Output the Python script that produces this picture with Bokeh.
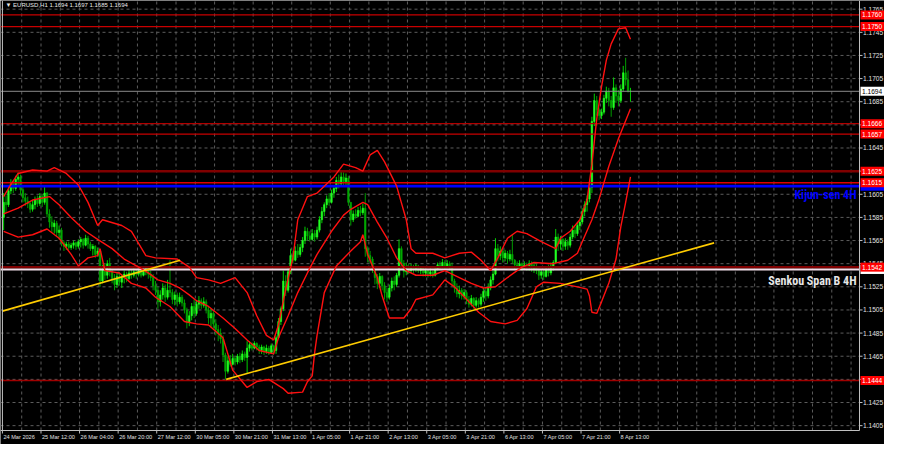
from bokeh.plotting import figure
from bokeh.models import Range1d, Label, ColumnDataSource
from bokeh.core.properties import value
from bokeh.embed import file_html
from bokeh.resources import INLINE

# ---------------- data (EURUSD H1) ----------------
first_open = 1.1585
closes = [
    1.1598, 1.1596, 1.1608, 1.1614, 1.1610, 1.1618, 1.1620, 1.1609, 1.1602, 1.1599,
    1.1597, 1.1592, 1.1596, 1.1600, 1.1597, 1.1603, 1.1598, 1.1606, 1.1588, 1.1581,
    1.1577, 1.1580, 1.1572, 1.1574, 1.1563, 1.1560, 1.1562, 1.1559, 1.1561, 1.1563,
    1.1560, 1.1564, 1.1566, 1.1561, 1.1567, 1.1562, 1.1558, 1.1560, 1.1553, 1.1556,
    1.1530, 1.1540, 1.1535, 1.1545, 1.1538, 1.1532, 1.1527, 1.1534, 1.1529, 1.1533,
    1.1536, 1.1532, 1.1537, 1.1535, 1.1538, 1.1536, 1.1539, 1.1535, 1.1538, 1.1541,
    1.1536, 1.1533, 1.1526, 1.1522, 1.1512, 1.1518, 1.1524, 1.1516, 1.1522, 1.1520,
    1.1514, 1.1518, 1.1512, 1.1516, 1.1511, 1.1505, 1.1494, 1.1500, 1.1508, 1.1502,
    1.1510, 1.1513, 1.1509, 1.1512, 1.1505, 1.1498, 1.1502, 1.1493, 1.1488, 1.1485,
    1.1480, 1.1466, 1.1452, 1.1461, 1.1458, 1.1463, 1.1460, 1.1465, 1.1462, 1.1467,
    1.1464, 1.1472, 1.1475, 1.1472, 1.1476, 1.1473, 1.1470, 1.1473, 1.1469, 1.1472,
    1.1468, 1.1474, 1.1470, 1.1481, 1.1495, 1.1506, 1.1530, 1.1522, 1.1538, 1.1552,
    1.1548, 1.1556, 1.1553, 1.1559, 1.1565, 1.1573, 1.1569, 1.1566, 1.1571, 1.1568,
    1.1574, 1.1583, 1.1590, 1.1596, 1.1601, 1.1598, 1.1606, 1.1610, 1.1617, 1.1614,
    1.1620, 1.1616, 1.1619, 1.1598, 1.1583, 1.1588, 1.1586, 1.1591, 1.1589, 1.1593,
    1.1558, 1.1552, 1.1549, 1.1540, 1.1533, 1.1528, 1.1534, 1.1526, 1.1520, 1.1516,
    1.1524, 1.1530, 1.1527, 1.1535, 1.1558, 1.1545, 1.1538, 1.1542, 1.1539, 1.1542,
    1.1540, 1.1543, 1.1539, 1.1541, 1.1537, 1.1539, 1.1536, 1.1538, 1.1535, 1.1540,
    1.1544, 1.1542, 1.1546, 1.1543, 1.1545, 1.1541, 1.1530, 1.1524, 1.1519, 1.1522,
    1.1517, 1.1520, 1.1514, 1.1510, 1.1515, 1.1509, 1.1513, 1.1510, 1.1516, 1.1521,
    1.1517, 1.1524, 1.1531, 1.1536, 1.1558, 1.1552, 1.1556, 1.1550, 1.1554, 1.1549,
    1.1553, 1.1548, 1.1544, 1.1542, 1.1545, 1.1541, 1.1544, 1.1542, 1.1545, 1.1541,
    1.1543, 1.1539, 1.1535, 1.1538, 1.1534, 1.1540, 1.1537, 1.1543, 1.1546, 1.1568,
    1.1562, 1.1566, 1.1560, 1.1564, 1.1561, 1.1568, 1.1574, 1.1571, 1.1578, 1.1581,
    1.1590, 1.1596, 1.1601, 1.1611, 1.1668, 1.1686, 1.1678, 1.1673, 1.1676, 1.1688,
    1.1694, 1.1686, 1.1680, 1.1697, 1.1690, 1.1686, 1.1696, 1.1710, 1.1704, 1.1694,
    1.1694,
]
highs = [
    1.1606, 1.1604, 1.1612, 1.1618, 1.1617, 1.1621, 1.1624, 1.1622, 1.1612, 1.1606,
    1.1603, 1.1599, 1.1600, 1.1603, 1.1604, 1.1606, 1.1605, 1.1613, 1.1607, 1.1592,
    1.1586, 1.1583, 1.1582, 1.1578, 1.1576, 1.1565, 1.1564, 1.1564, 1.1563, 1.1565,
    1.1564, 1.1566, 1.1568, 1.1567, 1.1570, 1.1569, 1.1564, 1.1562, 1.1561, 1.1559,
    1.1557, 1.1544, 1.1545, 1.1548, 1.1550, 1.1540, 1.1536, 1.1537, 1.1538, 1.1536,
    1.1539, 1.1538, 1.1540, 1.1540, 1.1541, 1.1540, 1.1541, 1.1540, 1.1541, 1.1543,
    1.1543, 1.1539, 1.1536, 1.1530, 1.1525, 1.1522, 1.1528, 1.1527, 1.1531, 1.1548,
    1.1523, 1.1521, 1.1520, 1.1520, 1.1518, 1.1514, 1.1507, 1.1504, 1.1511, 1.1514,
    1.1513, 1.1517, 1.1515, 1.1516, 1.1514, 1.1508, 1.1506, 1.1504, 1.1497, 1.1492,
    1.1489, 1.1483, 1.1468, 1.1465, 1.1466, 1.1467, 1.1465, 1.1467, 1.1468, 1.1470,
    1.1469, 1.1478, 1.1478, 1.1477, 1.1478, 1.1477, 1.1475, 1.1475, 1.1474, 1.1475,
    1.1474, 1.1476, 1.1475, 1.1483, 1.1498, 1.1508, 1.1539, 1.1535, 1.1542, 1.1558,
    1.1556, 1.1560, 1.1562, 1.1562, 1.1568, 1.1577, 1.1576, 1.1573, 1.1575, 1.1574,
    1.1577, 1.1586, 1.1594, 1.1598, 1.1604, 1.1606, 1.1609, 1.1612, 1.1620, 1.1622,
    1.1625, 1.1624, 1.1623, 1.1621, 1.1596, 1.1591, 1.1592, 1.1594, 1.1595, 1.1597,
    1.1606, 1.1560, 1.1556, 1.1551, 1.1539, 1.1536, 1.1537, 1.1535, 1.1529, 1.1524,
    1.1527, 1.1533, 1.1534, 1.1537, 1.1566, 1.1560, 1.1548, 1.1546, 1.1545, 1.1545,
    1.1544, 1.1545, 1.1544, 1.1543, 1.1542, 1.1541, 1.1540, 1.1541, 1.1539, 1.1542,
    1.1546, 1.1547, 1.1549, 1.1548, 1.1548, 1.1547, 1.1546, 1.1532, 1.1528, 1.1526,
    1.1524, 1.1523, 1.1522, 1.1517, 1.1518, 1.1516, 1.1516, 1.1515, 1.1519, 1.1524,
    1.1525, 1.1528, 1.1534, 1.1539, 1.1567, 1.1562, 1.1560, 1.1558, 1.1557, 1.1556,
    1.1557, 1.1570, 1.1549, 1.1547, 1.1548, 1.1546, 1.1547, 1.1546, 1.1548, 1.1547,
    1.1546, 1.1545, 1.1541, 1.1540, 1.1540, 1.1543, 1.1544, 1.1546, 1.1548, 1.1575,
    1.1571, 1.1569, 1.1567, 1.1567, 1.1566, 1.1571, 1.1578, 1.1577, 1.1581, 1.1584,
    1.1593, 1.1599, 1.1604, 1.1617, 1.1672, 1.1692, 1.1690, 1.1680, 1.1679, 1.1691,
    1.1698, 1.1697, 1.1690, 1.1706, 1.1700, 1.1695, 1.1700, 1.1716, 1.1723, 1.1712,
    1.1697,
]
lows = [
    1.1574, 1.1589, 1.1594, 1.1605, 1.1606, 1.1608, 1.1613, 1.1604, 1.1598, 1.1595,
    1.1593, 1.1589, 1.1590, 1.1592, 1.1594, 1.1595, 1.1594, 1.1596, 1.1585, 1.1576,
    1.1572, 1.1571, 1.1568, 1.1566, 1.1560, 1.1556, 1.1557, 1.1557, 1.1557, 1.1558,
    1.1557, 1.1558, 1.1559, 1.1558, 1.1560, 1.1558, 1.1556, 1.1552, 1.1550, 1.1551,
    1.1525, 1.1528, 1.1531, 1.1532, 1.1534, 1.1528, 1.1522, 1.1524, 1.1526, 1.1524,
    1.1528, 1.1529, 1.1531, 1.1532, 1.1533, 1.1532, 1.1534, 1.1533, 1.1534, 1.1535,
    1.1532, 1.1530, 1.1522, 1.1518, 1.1506, 1.1508, 1.1514, 1.1512, 1.1514, 1.1516,
    1.1510, 1.1509, 1.1508, 1.1510, 1.1508, 1.1502, 1.1489, 1.1491, 1.1496, 1.1498,
    1.1500, 1.1506, 1.1506, 1.1507, 1.1502, 1.1493, 1.1490, 1.1489, 1.1483, 1.1478,
    1.1476, 1.1460, 1.1445, 1.1450, 1.1456, 1.1457, 1.1457, 1.1458, 1.1459, 1.1460,
    1.1461, 1.1450, 1.1469, 1.1470, 1.1471, 1.1470, 1.1467, 1.1467, 1.1466, 1.1467,
    1.1466, 1.1467, 1.1466, 1.1467, 1.1480, 1.1492, 1.1504, 1.1517, 1.1520, 1.1536,
    1.1545, 1.1547, 1.1550, 1.1551, 1.1555, 1.1562, 1.1565, 1.1564, 1.1565, 1.1564,
    1.1566, 1.1572, 1.1580, 1.1586, 1.1593, 1.1595, 1.1597, 1.1602, 1.1607, 1.1610,
    1.1612, 1.1613, 1.1612, 1.1595, 1.1578, 1.1581, 1.1584, 1.1585, 1.1586, 1.1587,
    1.1551, 1.1546, 1.1545, 1.1537, 1.1527, 1.1523, 1.1524, 1.1522, 1.1514, 1.1512,
    1.1514, 1.1521, 1.1522, 1.1525, 1.1533, 1.1541, 1.1533, 1.1535, 1.1536, 1.1537,
    1.1537, 1.1538, 1.1537, 1.1536, 1.1534, 1.1534, 1.1533, 1.1534, 1.1533, 1.1534,
    1.1539, 1.1540, 1.1541, 1.1540, 1.1541, 1.1539, 1.1526, 1.1520, 1.1516, 1.1515,
    1.1514, 1.1514, 1.1510, 1.1507, 1.1508, 1.1506, 1.1507, 1.1507, 1.1508, 1.1512,
    1.1513, 1.1515, 1.1522, 1.1527, 1.1535, 1.1547, 1.1548, 1.1546, 1.1547, 1.1545,
    1.1547, 1.1545, 1.1540, 1.1539, 1.1540, 1.1539, 1.1540, 1.1539, 1.1539, 1.1538,
    1.1537, 1.1536, 1.1531, 1.1532, 1.1531, 1.1533, 1.1534, 1.1535, 1.1539, 1.1545,
    1.1556, 1.1557, 1.1556, 1.1557, 1.1557, 1.1559, 1.1566, 1.1567, 1.1569, 1.1574,
    1.1579, 1.1586, 1.1590, 1.1598, 1.1606, 1.1664, 1.1673, 1.1669, 1.1670, 1.1674,
    1.1684, 1.1681, 1.1672, 1.1678, 1.1684, 1.1681, 1.1684, 1.1694, 1.1699, 1.1693,
    1.1685,
]

# Bollinger bands (bar index, price)
ub_x = [0, 2, 6, 12, 18, 21, 26, 31, 35, 39, 41, 49, 53, 59, 63, 72, 77, 80, 85, 90,
        96, 101, 105, 109, 112, 114, 117, 120, 122, 126, 130, 133, 137, 141, 146, 149,
        152, 155, 158, 163, 167, 169, 171, 178, 183, 189, 194, 198, 202, 205, 209, 213,
        217, 223, 229, 231, 235, 239, 242, 244, 246, 248, 250, 252, 255, 258, 260]
ub_p = [1.1603, 1.1610, 1.1623, 1.1626, 1.1625, 1.1628, 1.1623, 1.1613, 1.1598, 1.1578,
        1.1583, 1.1578, 1.1573, 1.1552, 1.1550, 1.1549, 1.1542, 1.1533, 1.1531, 1.1528,
        1.1533, 1.1520, 1.1500, 1.1483, 1.1479, 1.1492, 1.1523, 1.1550, 1.1583, 1.1603,
        1.1606, 1.1612, 1.1620, 1.1631, 1.1628, 1.1625, 1.1639, 1.1643, 1.1633, 1.1612,
        1.1583, 1.1558, 1.1554, 1.1554, 1.1550, 1.1554, 1.1555, 1.1548, 1.1539, 1.1550,
        1.1567, 1.1573, 1.1571, 1.1564, 1.1558, 1.1567, 1.1573, 1.1583, 1.1600, 1.1631,
        1.1670, 1.1698, 1.1721, 1.1735, 1.1748, 1.1749, 1.1739]
mb_x = [0, 6, 12, 19, 23, 28, 34, 39, 45, 50, 56, 60, 64, 69, 73, 77, 80, 85, 91, 96,
        101, 106, 112, 114, 118, 122, 126, 130, 136, 141, 144, 149, 151, 155, 159, 163,
        167, 171, 178, 183, 189, 194, 199, 204, 209, 215, 220, 228, 234, 238, 240, 244,
        247, 251, 255, 260]
mb_p = [1.1588, 1.1593, 1.1600, 1.1603, 1.1596, 1.1585, 1.1573, 1.1566, 1.1558, 1.1549,
        1.1542, 1.1537, 1.1531, 1.1528, 1.1524, 1.1518, 1.1513, 1.1508, 1.1498, 1.1489,
        1.1479, 1.1470, 1.1467, 1.1481, 1.1500, 1.1520, 1.1537, 1.1553, 1.1573, 1.1587,
        1.1592, 1.1598, 1.1596, 1.1581, 1.1567, 1.1550, 1.1539, 1.1535, 1.1535, 1.1539,
        1.1533, 1.1528, 1.1524, 1.1525, 1.1533, 1.1542, 1.1546, 1.1545, 1.1548, 1.1554,
        1.1564, 1.1583, 1.1601, 1.1629, 1.1653, 1.1679]
lb_x = [0, 6, 12, 18, 23, 28, 31, 35, 39, 40, 42, 48, 53, 59, 63, 69, 75, 80, 85, 91,
        95, 101, 105, 110, 116, 118, 124, 126, 128, 129, 130, 133, 138, 144, 148, 149,
        151, 155, 157, 160, 166, 169, 171, 178, 183, 187, 193, 197, 202, 208, 213, 217,
        221, 224, 231, 238, 242, 243, 244, 246, 248, 251, 254, 256, 258, 260]
lb_p = [1.1573, 1.1568, 1.1570, 1.1575, 1.1567, 1.1553, 1.1543, 1.1550, 1.1552, 1.1558,
        1.1539, 1.1537, 1.1528, 1.1524, 1.1516, 1.1508, 1.1495, 1.1493, 1.1492, 1.1481,
        1.1453, 1.1438, 1.1443, 1.1445, 1.1437, 1.1433, 1.1434, 1.1443, 1.1448, 1.1468,
        1.1483, 1.1520, 1.1543, 1.1556, 1.1564, 1.1570, 1.1553, 1.1533, 1.1517, 1.1498,
        1.1498, 1.1506, 1.1514, 1.1518, 1.1531, 1.1525, 1.1512, 1.1503, 1.1495, 1.1493,
        1.1496, 1.1506, 1.1525, 1.1529, 1.1528, 1.1525, 1.1523, 1.1517, 1.1503, 1.1502,
        1.1512, 1.1528, 1.1549, 1.1577, 1.1598, 1.1620]

# trend lines (bar index, price)
trend1_x = [-0.5, 73.2]
trend1_p = [1.1504, 1.1548]
trend2_x = [92.3, 294.7]
trend2_p = [1.1445, 1.1563]

# horizontal levels
levels = [1.1760, 1.1750, 1.1666, 1.1657, 1.1625, 1.1615, 1.1542, 1.1444]
level_colors = ["#c80000", "#c80000", "#b00000", "#c80000", "#800000", "#e00000", "#800000", "#a00000"]
level_widths = [1.2, 1.2, 1.2, 1.2, 2.5, 1.5, 2.5, 1.5]
kijun_level = 1.1612
senkou_level = 1.1540
bid_price = 1.1694

# time scale: bar index of each labelled bar, and its label
x_ticks = [0, 16, 32, 48, 64, 80, 96, 112, 128, 144, 160, 176, 192, 208, 224, 240, 256]
x_labels = ["24 Mar 2026", "25 Mar 12:00", "26 Mar 04:00", "26 Mar 20:00", "27 Mar 12:00",
            "30 Mar 05:00", "30 Mar 21:00", "31 Mar 13:00", "1 Apr 05:00", "1 Apr 21:00",
            "2 Apr 13:00", "3 Apr 05:00", "3 Apr 21:00", "6 Apr 13:00", "7 Apr 05:00",
            "7 Apr 21:00", "8 Apr 13:00"]
y_ticks = [1.1405, 1.1425, 1.1445, 1.1465, 1.1485, 1.1505, 1.1525, 1.1545, 1.1565, 1.1585,
           1.1605, 1.1625, 1.1645, 1.1665, 1.1685, 1.1705, 1.1725, 1.1745, 1.1765]
header = "\u25bc EURUSD,H1  1.1694 1.1697 1.1685 1.1694"

# ---------------- layout constants ----------------
W, H = 884, 444
SCALE_W = 25            # px width of the price-scale column
TIME_H = 14             # px height of the time-scale row
CW, CHT = W - SCALE_W, H - TIME_H
X0 = -1.3               # left edge of chart (bar units)
CH = X0 + 356.3         # right border of chart area (bar units)
PXX = (CH - X0) / CW    # one pixel in bar units
Y0, Y1 = 1.14008, 1.17725
PXY = (Y1 - Y0) / CHT   # one pixel in price units
X1 = X0 + W * PXX
YB = Y0 - TIME_H * PXY
FONT = "Liberation Sans"
BIG = "Roboto Condensed, Liberation Sans"

p = figure(width=W, height=H, x_range=Range1d(X0, X1), y_range=Range1d(YB, Y1),
           x_axis_location=None, y_axis_location=None, output_backend="svg",
           toolbar_location=None, background_fill_color="#000000",
           border_fill_color="#000000", min_border_left=0, min_border_top=0,
           min_border_bottom=0, min_border_right=0)
p.outline_line_color = None
p.xgrid.visible = False
p.ygrid.visible = False

# dashed grid (only over the chart area)
vgrid = [g - 0.5 for g in range(8, 360, 8) if g - 0.5 < CH]
p.segment(x0=vgrid, y0=[Y0] * len(vgrid), x1=vgrid, y1=[Y1] * len(vgrid),
          line_color="#5c5c5c", line_dash="3 3", line_width=1)
p.segment(x0=[X0] * len(y_ticks), y0=y_ticks, x1=[CH] * len(y_ticks), y1=y_ticks,
          line_color="#5c5c5c", line_dash="3 3", line_width=1)

# candles
n = len(closes)
opens = [first_open] + closes[:-1]
idx = list(range(n))
up = [c >= o for o, c in zip(opens, closes)]
src = ColumnDataSource(dict(
    x=idx, o=opens, c=closes, h=highs, l=lows,
    top=[max(o, c) for o, c in zip(opens, closes)],
    bot=[min(o, c) for o, c in zip(opens, closes)],
    wick=["#00d000" if u else "#009a00" for u in up],
    body=["#22ff22" if u else "#00a800" for u in up],
))
p.segment(x0="x", y0="l", x1="x", y1="h", color="wick", line_width=1, source=src)
p.vbar(x="x", width=0.62, top="top", bottom="bot", fill_color="body", line_color="body",
       line_width=0.6, source=src)

# horizontal levels
p.segment(x0=[X0], y0=[bid_price], x1=[CH], y1=[bid_price], line_color="#8a8a8a", line_width=1)
p.segment(x0=[X0] * len(levels), y0=levels, x1=[CH] * len(levels), y1=levels,
          line_color=level_colors, line_width=level_widths)
p.segment(x0=[X0], y0=[senkou_level], x1=[CH], y1=[senkou_level], line_color="#f2dde8", line_width=2)
p.segment(x0=[X0], y0=[kijun_level], x1=[CH], y1=[kijun_level], line_color="#0000ff", line_width=2.6)

# Bollinger bands
for bx, bp in ((ub_x, ub_p), (mb_x, mb_p), (lb_x, lb_p)):
    p.line(bx, bp, line_color="#ff1010", line_width=1.4)

# trend lines
p.line(trend1_x, trend1_p, line_color="#ffcc00", line_width=1.6)
p.line(trend2_x, trend2_p, line_color="#ffcc00", line_width=1.6)

# chart borders (left, right, bottom)
p.segment(x0=[-0.5, CH, X0], y0=[Y0, Y0, Y0], x1=[-0.5, CH, CH], y1=[Y1, Y1, Y0],
          line_color="#c0c0c0", line_width=1)

# price scale: ticks and labels
p.segment(x0=[CH] * len(y_ticks), y0=y_ticks, x1=[CH + 3 * PXX] * len(y_ticks), y1=y_ticks,
          line_color="#c0c0c0", line_width=1)
p.text(x=[CH + 3.5 * PXX] * len(y_ticks), y=y_ticks, text=["%.4f" % t for t in y_ticks],
       text_font=value(FONT), text_font_size="6.6px", text_color="#e0e0e0",
       text_align="left", text_baseline="middle")

# time scale: ticks at the left edge of each labelled bar, labels to their right
tx = [t - 0.5 for t in x_ticks]
p.segment(x0=tx, y0=[Y0] * len(tx), x1=tx, y1=[Y0 - 3 * PXY] * len(tx),
          line_color="#c0c0c0", line_width=1)
p.text(x=[t + 1 * PXX for t in tx], y=[Y0 - 3 * PXY] * len(tx), text=x_labels,
       text_font=value(FONT), text_font_size="5.6px", text_color="#e0e0e0",
       text_align="left", text_baseline="top")

# price tags
def tags(ys, bg, fg):
    k = len(ys)
    p.rect(x=[CH + 13 * PXX] * k, y=ys, width=24, height=9, width_units="screen",
           height_units="screen", fill_color=bg, line_color=None)
    p.text(x=[CH + 2.5 * PXX] * k, y=ys, text=["%.4f" % v for v in ys],
           text_font=value(FONT), text_font_size="6.6px", text_color=fg,
           text_align="left", text_baseline="middle")

tags([senkou_level], "#ffffff", "#ffffff")
tags([kijun_level], "#0000ff", "#0000ff")
tags(levels, "#ff0000", "#ffffff")
tags([bid_price], "#ffffff", "#000000")

# texts
p.add_layout(Label(x=CH, y=1.1604, x_offset=-3, text="Kijun-sen 4H",
                   text_font=BIG, text_font_style="bold",
                   text_font_size="12px", text_color="#0000ff",
                   text_align="right", text_baseline="middle"))
p.add_layout(Label(x=CH, y=1.1530, x_offset=-3, text="Senkou Span B 4H",
                   text_font=BIG, text_font_style="bold",
                   text_font_size="12px", text_color="#e6e6e6",
                   text_align="right", text_baseline="middle"))
p.add_layout(Label(x=X0, y=Y1, x_offset=5, y_offset=-1, text=header, text_font=FONT,
                   text_font_size="6px", text_color="#e8e8e8",
                   text_align="left", text_baseline="top"))

open("out.html", "w").write(file_html(p, INLINE))
